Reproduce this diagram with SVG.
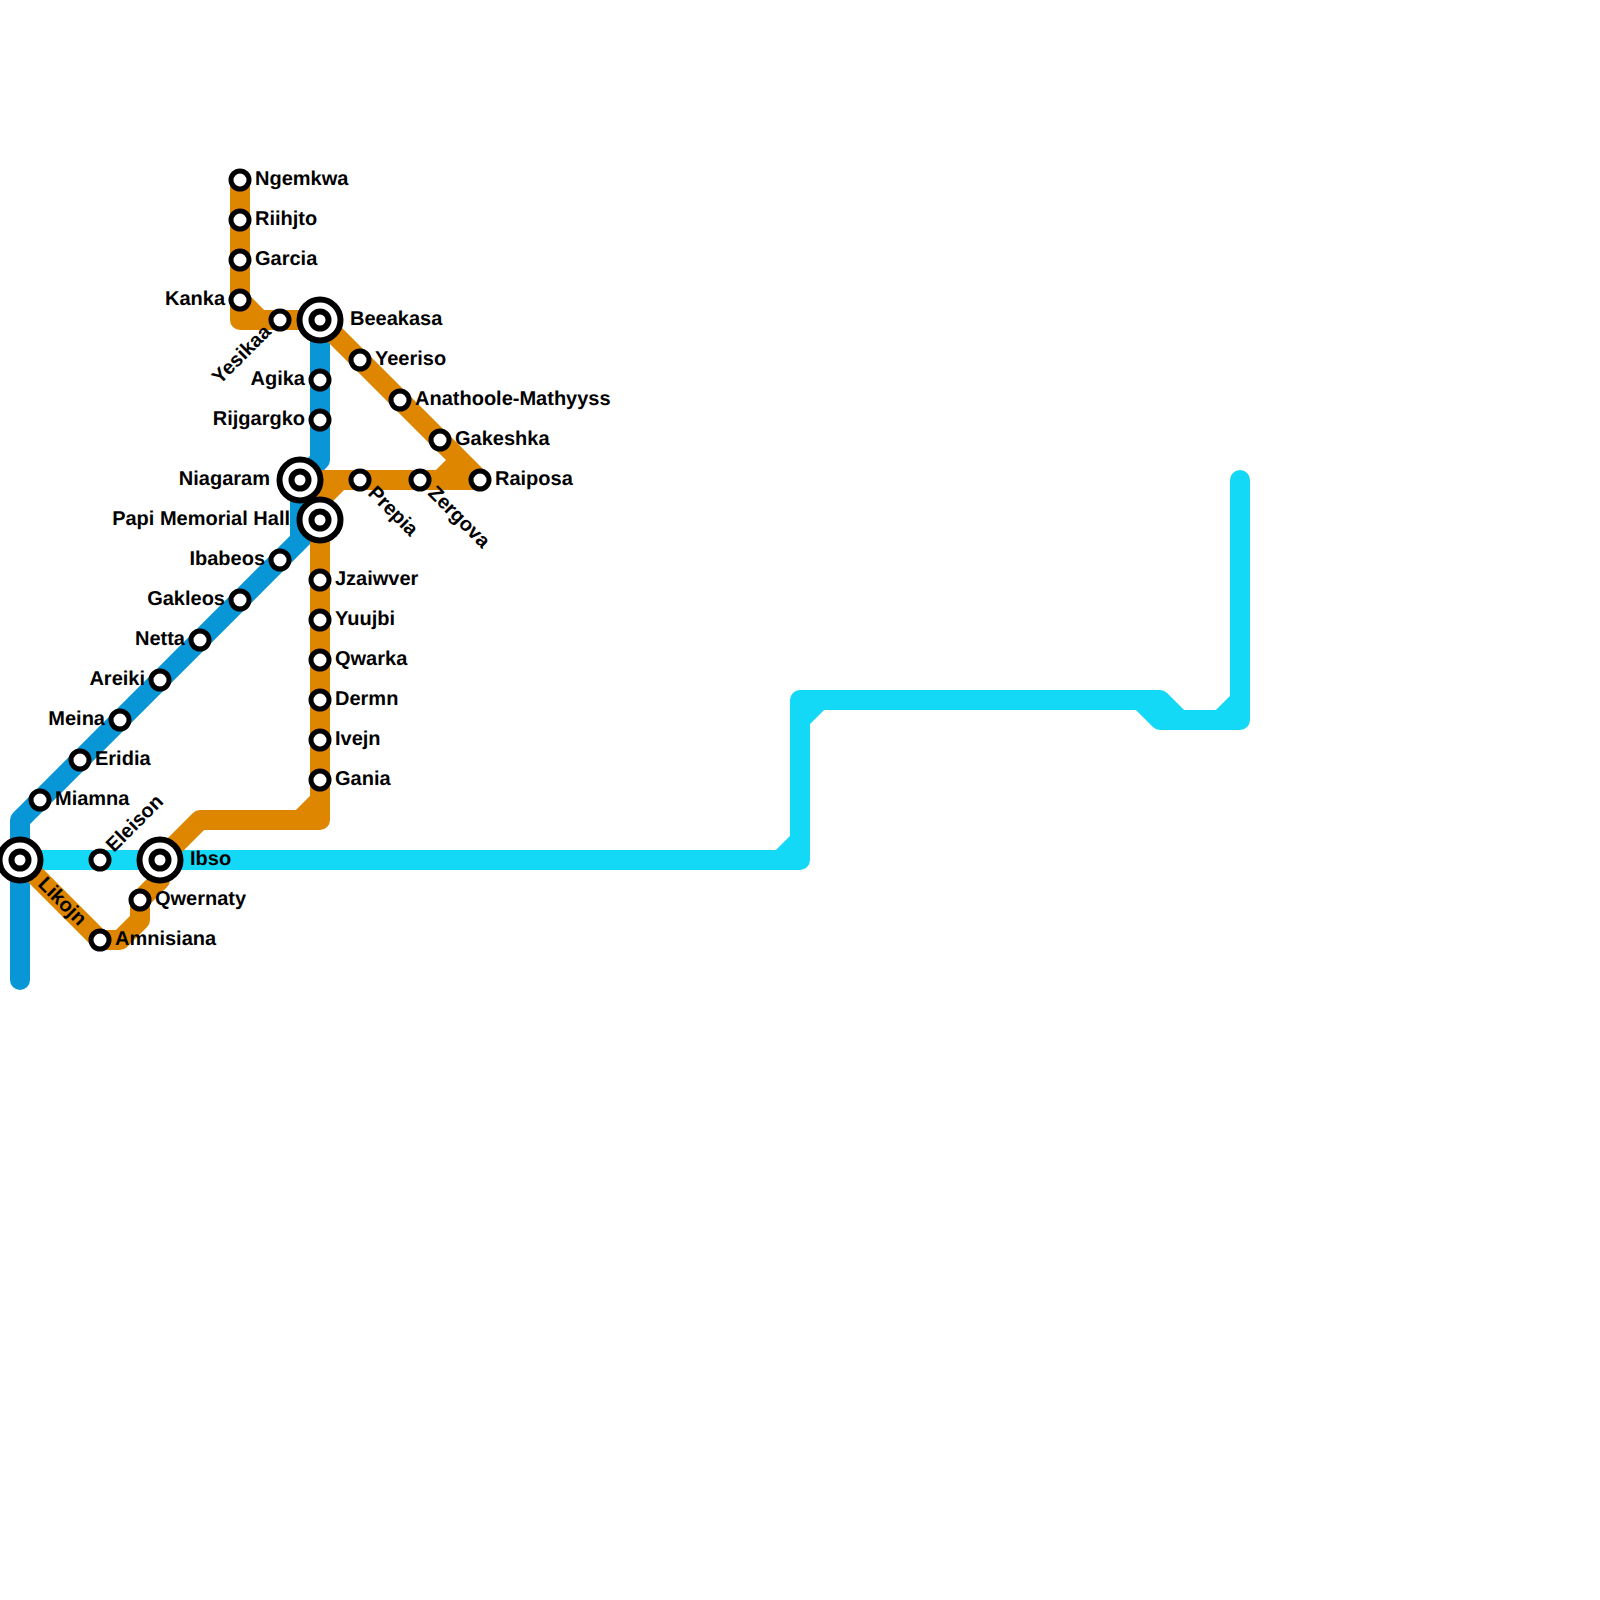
<svg xmlns="http://www.w3.org/2000/svg" width="1600" height="1600" viewBox="0 0 1600 1600">
<style>
.l{fill:none;stroke-width:20;stroke-linejoin:round;stroke-linecap:round}
.o{stroke:#df8600}.b{stroke:#0896d7}.c{stroke:#13d8f6}
.s{fill:#fff;stroke:#000;stroke-width:5}
.r{fill:#fff;stroke:#000;stroke-width:6}
text{font-family:"Liberation Sans",Arial,sans-serif;font-weight:700;font-size:20px;fill:#000;text-rendering:geometricPrecision}
.e{text-anchor:end}
</style>
<defs>
<g id="st"><circle class="s" r="9"/></g>
<g id="ic"><circle class="r" r="20.5"/><circle class="r" r="8.5"/></g>
</defs>
<rect width="1600" height="1600" fill="#fff"/>
<g id="connectors">
<path class="l c" d="M20 860H800V700H1160L1180 720H1240V480M780 860L800 840M800 720L820 700M1140 700L1160 720H1180M1220 720L1240 700"/>
<path class="l b" d="M320 320V460L300 480V540L20 820V980M300 540L320 520"/>
<path class="l o" d="M240 180V320H320L480 480H320M240 300L260 320M440 480L460 460M320 500L340 480M320 500V820H200L160 860V880L140 900V920L120 940H100L20 860M300 820L320 800"/>
</g>
<g id="n-ngemkwa"><use href="#st" x="240" y="180"/><text x="255" y="185">Ngemkwa</text></g>
<g id="n-riihjto"><use href="#st" x="240" y="220"/><text x="255" y="225">Riihjto</text></g>
<g id="n-garcia"><use href="#st" x="240" y="260"/><text x="255" y="265">Garcia</text></g>
<g id="n-kanka"><use href="#st" x="240" y="300"/><text class="e" x="225" y="305">Kanka</text></g>
<g id="n-yesikaa"><use href="#st" x="280" y="320"/><text class="e" transform="translate(272 333) rotate(-45)">Yesikaa</text></g>
<g id="n-beeakasa"><use href="#ic" x="320" y="320"/><text x="350" y="325">Beeakasa</text></g>
<g id="n-yeeriso"><use href="#st" x="360" y="360"/><text x="375" y="365">Yeeriso</text></g>
<g id="n-anathoole"><use href="#st" x="400" y="400"/><text x="415" y="405">Anathoole-Mathyyss</text></g>
<g id="n-gakeshka"><use href="#st" x="440" y="440"/><text x="455" y="445">Gakeshka</text></g>
<g id="n-raiposa"><use href="#st" x="480" y="480"/><text x="495" y="485">Raiposa</text></g>
<g id="n-agika"><use href="#st" x="320" y="380"/><text class="e" x="305" y="385">Agika</text></g>
<g id="n-rijgargko"><use href="#st" x="320" y="420"/><text class="e" x="305" y="425">Rijgargko</text></g>
<g id="n-niagaram"><use href="#ic" x="300" y="480"/><text class="e" x="270" y="485">Niagaram</text></g>
<g id="n-prepia"><use href="#st" x="360" y="480"/><text transform="translate(367 494) rotate(45)">Prepia</text></g>
<g id="n-zergova"><use href="#st" x="420" y="480"/><text transform="translate(427 494) rotate(45)">Zergova</text></g>
<g id="n-papi"><use href="#ic" x="320" y="520"/><text class="e" x="290" y="525">Papi Memorial Hall</text></g>
<g id="n-jzaiwver"><use href="#st" x="320" y="580"/><text x="335" y="585">Jzaiwver</text></g>
<g id="n-yuujbi"><use href="#st" x="320" y="620"/><text x="335" y="625">Yuujbi</text></g>
<g id="n-qwarka"><use href="#st" x="320" y="660"/><text x="335" y="665">Qwarka</text></g>
<g id="n-dermn"><use href="#st" x="320" y="700"/><text x="335" y="705">Dermn</text></g>
<g id="n-ivejn"><use href="#st" x="320" y="740"/><text x="335" y="745">Ivejn</text></g>
<g id="n-gania"><use href="#st" x="320" y="780"/><text x="335" y="785">Gania</text></g>
<g id="n-ibabeos"><use href="#st" x="280" y="560"/><text class="e" x="265" y="565">Ibabeos</text></g>
<g id="n-gakleos"><use href="#st" x="240" y="600"/><text class="e" x="225" y="605">Gakleos</text></g>
<g id="n-netta"><use href="#st" x="200" y="640"/><text class="e" x="185" y="645">Netta</text></g>
<g id="n-areiki"><use href="#st" x="160" y="680"/><text class="e" x="145" y="685">Areiki</text></g>
<g id="n-meina"><use href="#st" x="120" y="720"/><text class="e" x="105" y="725">Meina</text></g>
<g id="n-eridia"><use href="#st" x="80" y="760"/><text x="95" y="765">Eridia</text></g>
<g id="n-miamna"><use href="#st" x="40" y="800"/><text x="55" y="805">Miamna</text></g>
<g id="n-left"><use href="#ic" x="20" y="860"/></g>
<g id="n-eleison"><use href="#st" x="100" y="860"/><text transform="translate(114 853) rotate(-45)">Eleison</text></g>
<g id="n-ibso"><use href="#ic" x="160" y="860"/><text x="190" y="865">Ibso</text></g>
<g id="n-qwernaty"><use href="#st" x="140" y="900"/><text x="155" y="905">Qwernaty</text></g>
<g id="n-amnisiana"><use href="#st" x="100" y="940"/><text x="115" y="945">Amnisiana</text></g>
<g id="n-likojn"><text transform="translate(37 885) rotate(45)">Likojn</text></g>
</svg>
